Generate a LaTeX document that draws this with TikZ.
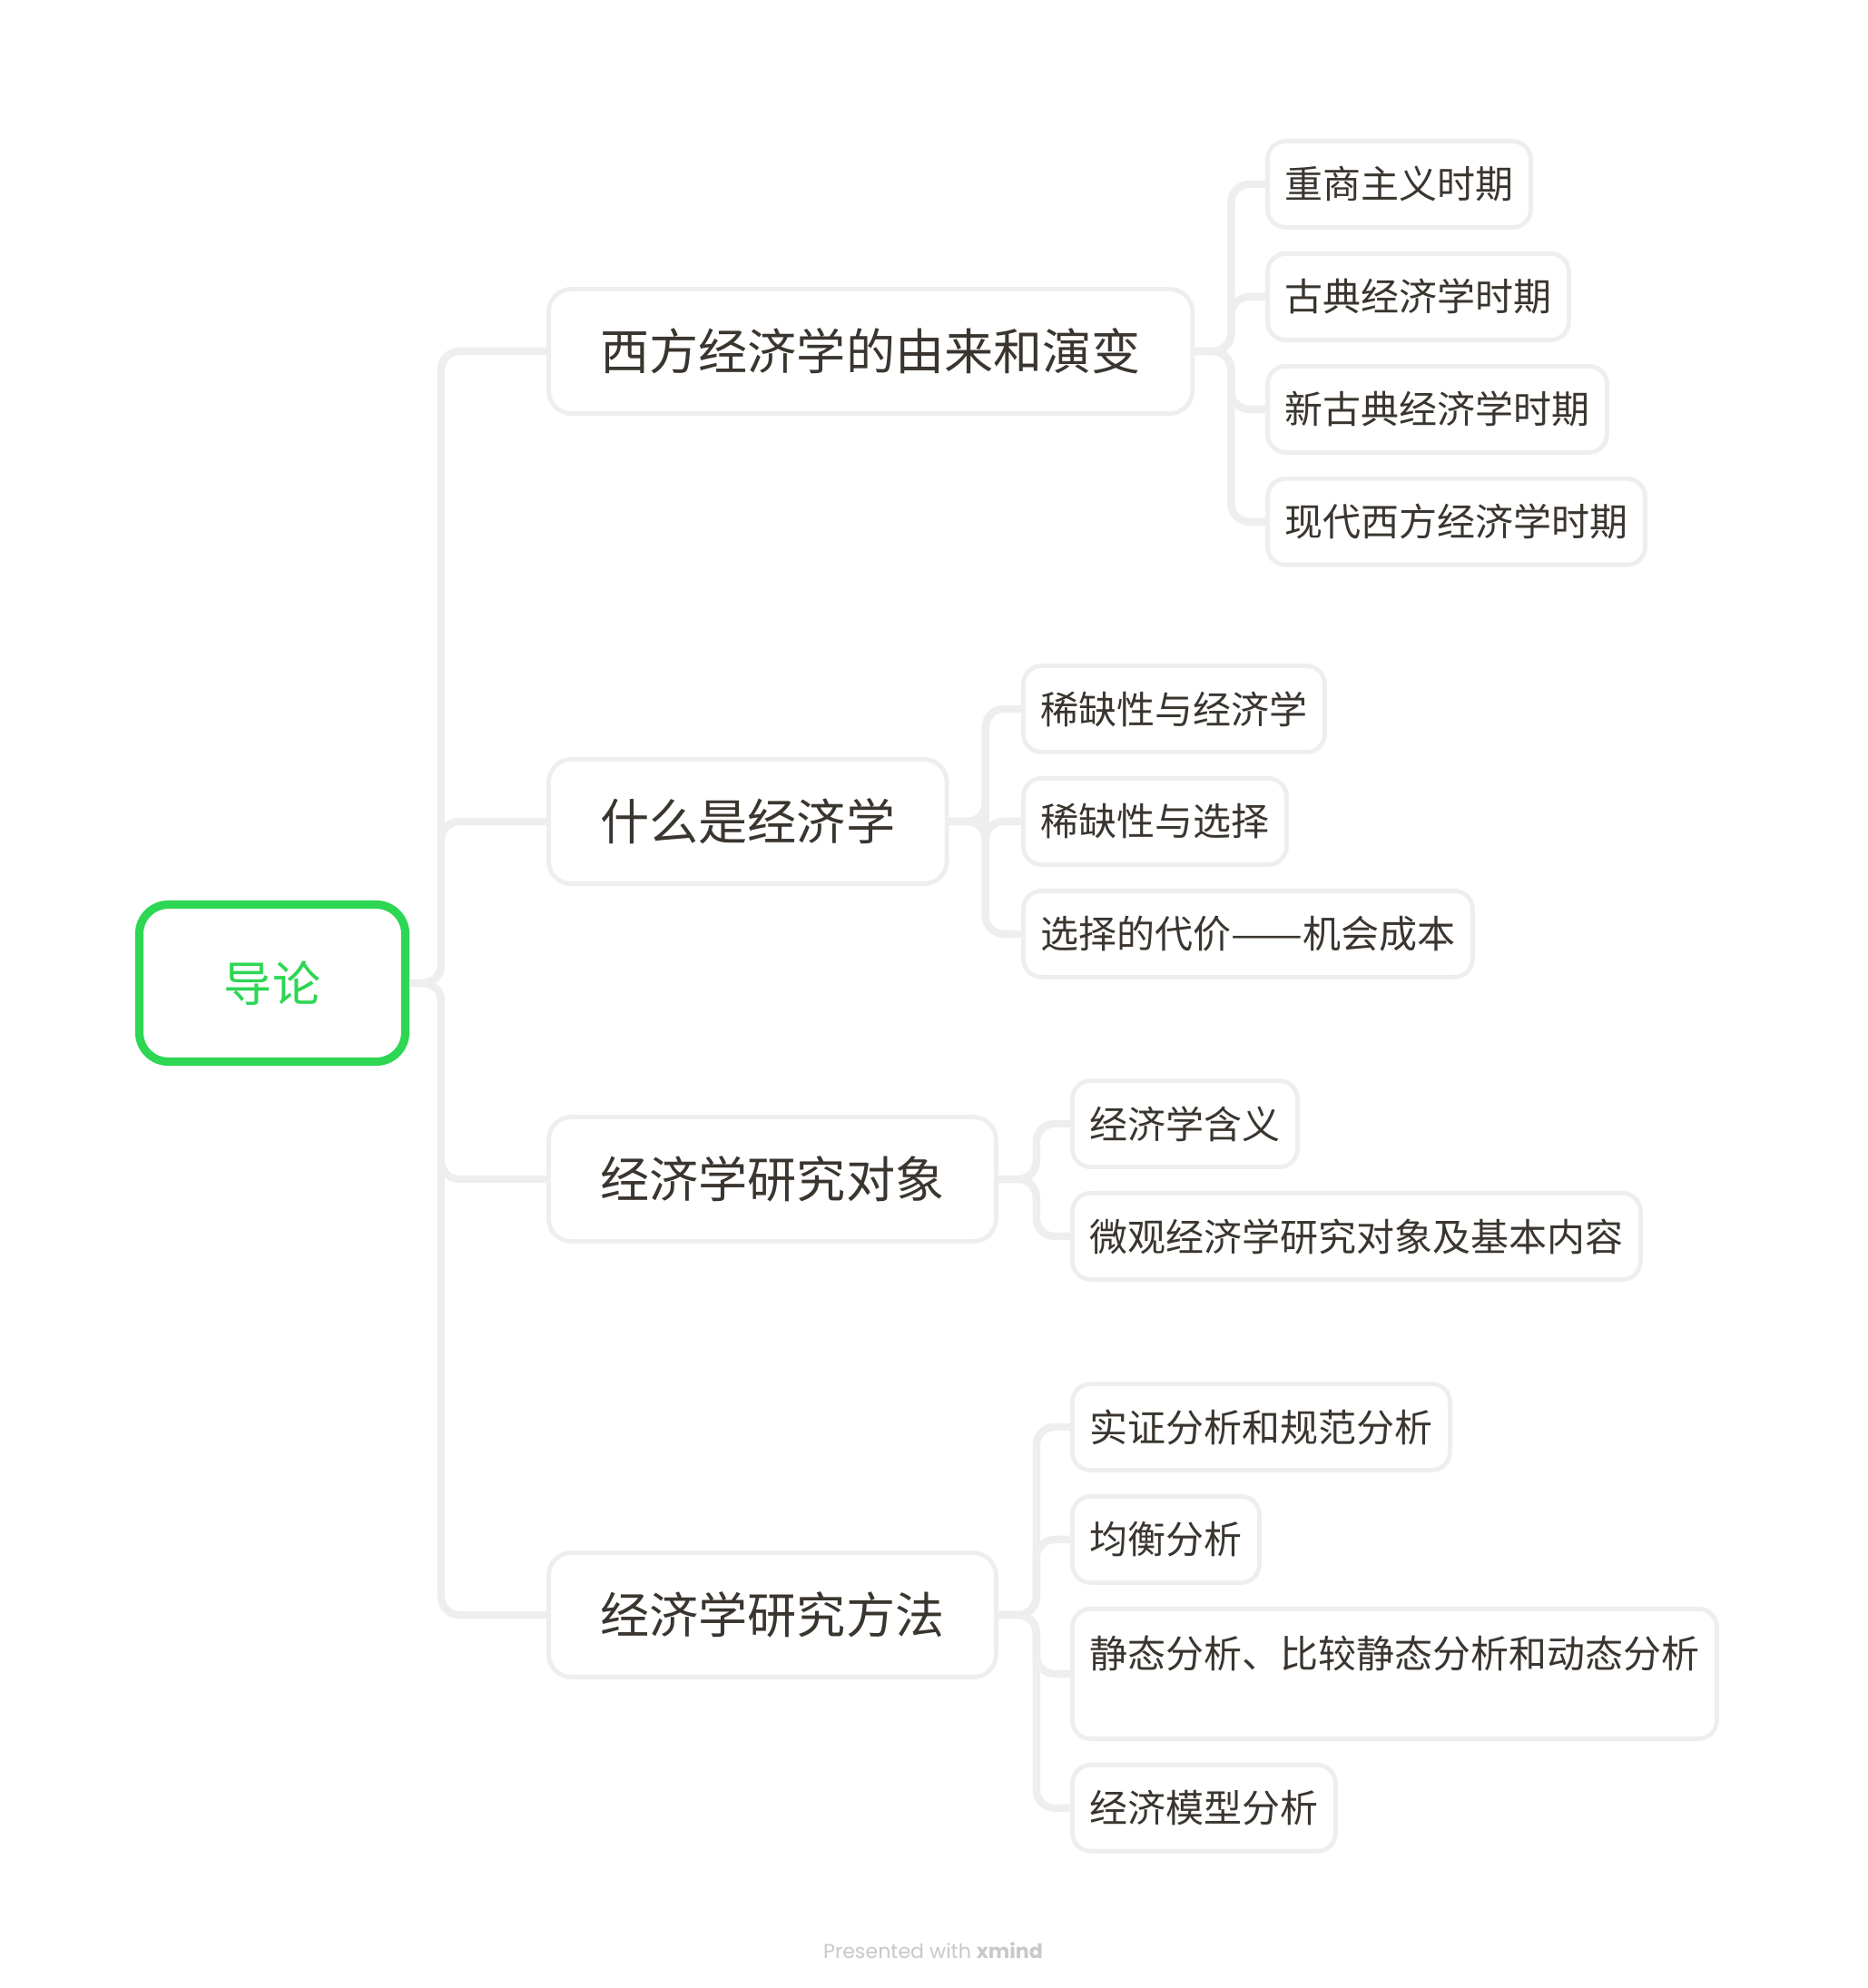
\documentclass[tikz,border=0pt]{standalone}
\usepackage{graphicx}
\usepackage{fontspec}
\setmainfont{Noto Sans CJK SC}
\newfontfamily\footfont{Poppins}
\usetikzlibrary{positioning}
\definecolor{rootgreen}{HTML}{2DD653}
\definecolor{linegray}{HTML}{EEEEEE}
\definecolor{inkbrown}{HTML}{3A352F}
\definecolor{footgray}{HTML}{C8C8C8}

\begin{document}
\begin{tikzpicture}[
    root/.style={draw=rootgreen, line width=2.6pt, rounded corners=0.32cm, minimum width=2.93cm, minimum height=1.73cm, text=rootgreen, font=\fontsize{15.1}{18}\selectfont},
    topic/.style={draw=linegray, line width=1.4pt, rounded corners=0.25cm, minimum height=1.37cm, inner xsep=0.57cm, text=inkbrown, font=\fontsize{15.4}{18}\selectfont, anchor=west},
    leaf/.style={draw=linegray, line width=1.4pt, rounded corners=0.2cm, minimum height=0.95cm, inner xsep=0.19cm, text=inkbrown, font=\fontsize{11.95}{14}\selectfont},
    conn/.style={draw=linegray, line width=2.4pt, rounded corners=0.2cm}
]
    \useasboundingbox (0,0) rectangle (20.58,-21.90);

    % Central topic
    \node[root] (root) at (3.00,-10.83) {导论};
    \coordinate (trunk) at (4.86,0);

    % Main topics
    \node[topic] (b1) at (6.02,-3.87) {西方经济学的由来和演变};
    \node[topic] (b2) at (6.02,-9.05) {什么是经济学};
    \node[topic] (b3) at (6.02,-12.99) {经济学研究对象};
    \node[topic] (b4) at (6.02,-17.79) {经济学研究方法};

    % Subtopics of b1
    \node[leaf, anchor=west] (l11) at (13.94,-2.03) {重商主义时期};
    \node[leaf, below=0.24cm of l11.south west, anchor=north west] (l12) {古典经济学时期};
    \node[leaf, below=0.24cm of l12.south west, anchor=north west] (l13) {新古典经济学时期};
    \node[leaf, below=0.24cm of l13.south west, anchor=north west] (l14) {现代西方经济学时期};

    % Subtopics of b2
    \node[leaf, anchor=west] (l21) at (11.25,-7.81) {稀缺性与经济学};
    \node[leaf, below=0.24cm of l21.south west, anchor=north west] (l22) {稀缺性与选择};
    \node[leaf, below=0.24cm of l22.south west, anchor=north west] (l23) {选择的代价\scalebox{1.12}[1]{——}机会成本};

    % Subtopics of b3
    \node[leaf, anchor=west] (l31) at (11.79,-12.38) {经济学含义};
    \node[leaf, below=0.24cm of l31.south west, anchor=north west] (l32) {微观经济学研究对象及基本内容};

    % Subtopics of b4
    \node[leaf, anchor=west] (l41) at (11.79,-15.72) {实证分析和规范分析};
    \node[leaf, below=0.24cm of l41.south west, anchor=north west] (l42) {均衡分析};
    \node[leaf, below=0.24cm of l42.south west, anchor=north west, minimum height=1.43cm, text depth=0.49cm] (l43) {静态分析、比较静态分析和动态分析};
    \node[leaf, below=0.24cm of l43.south west, anchor=north west] (l44) {经济模型分析};

    % Connectors
    \foreach \b in {b1,b2,b3,b4}
        \draw[conn] (root.east) -- (root.east -| trunk) |- (\b.west);
    \foreach \l in {l11,l12,l13,l14}
        \draw[conn] (b1.east) -- ++(0.40,0) |- (\l.west);
    \foreach \l in {l21,l22,l23}
        \draw[conn] (b2.east) -- ++(0.40,0) |- (\l.west);
    \foreach \l in {l31,l32}
        \draw[conn] (b3.east) -- ++(0.42,0) |- (\l.west);
    \foreach \l in {l41,l42,l43,l44}
        \draw[conn] (b4.east) -- ++(0.42,0) |- (\l.west);

    % Footer
    \node[text=footgray, font=\footfont\fontsize{6.3}{8}\selectfont] (credit) at (10.28,-21.49) {Presented with \textbf{xmind}};
\end{tikzpicture}
\end{document}
